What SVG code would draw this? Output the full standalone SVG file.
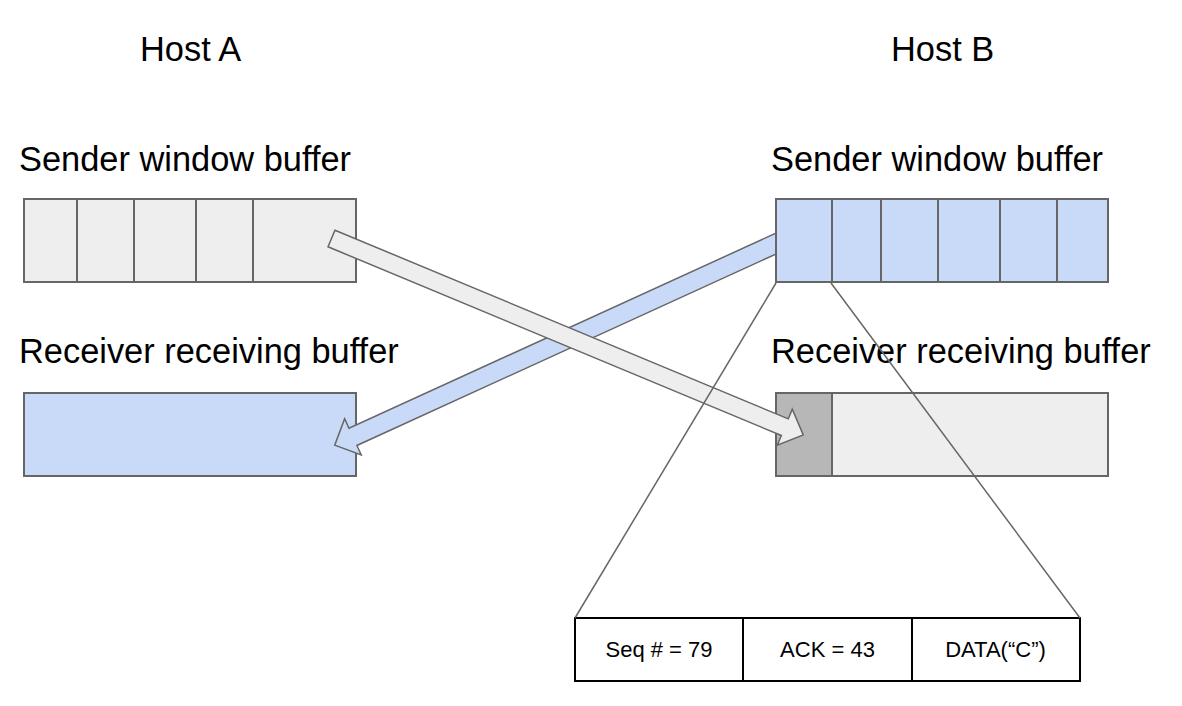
<svg xmlns="http://www.w3.org/2000/svg" width="1182" height="706" viewBox="0 0 1182 706">
<style>
  .lbl { font-family: "Liberation Sans", Arial, sans-serif; font-size: 34.4px; fill: #000; }
  .pkt { font-family: "Liberation Sans", Arial, sans-serif; font-size: 22px; fill: #000; text-anchor: middle; }
  .gray { fill: #eeeeee; stroke: #666666; stroke-width: 2; }
  .blue { fill: #c9daf8; stroke: #666666; stroke-width: 2; }
  .dark { fill: #b7b7b7; stroke: #666666; stroke-width: 2; }
  .div { stroke: #666666; stroke-width: 2; fill: none; }
  .pbox { fill: #ffffff; stroke: #000000; stroke-width: 2; }
  .arrowG { fill: #eeeeee; stroke: #666666; stroke-width: 1.5; stroke-linejoin: miter; }
  .arrowB { fill: #c9daf8; stroke: #666666; stroke-width: 1.5; stroke-linejoin: miter; }
  .leader { stroke: #666666; stroke-width: 1.5; fill: none; }
</style>
<rect width="1182" height="706" fill="#ffffff"/>

<g id="hostA-title"><text class="lbl" x="140" y="61">Host A</text></g>
<g id="hostB-title"><text class="lbl" x="891" y="61">Host B</text></g>

<g id="A-sender">
  <text class="lbl" x="19" y="171">Sender window buffer</text>
  <rect class="gray" x="24" y="199" width="332" height="83"/>
  <path class="div" d="M77,199V282M134,199V282M196,199V282M253,199V282"/>
</g>

<g id="A-receiver">
  <text class="lbl" x="19" y="363">Receiver receiving buffer</text>
  <rect class="blue" x="24" y="393" width="332" height="83"/>
</g>

<g id="connectors-under">
  <path class="arrowB" transform="translate(790,237.2) rotate(155.45)" d="M0,-9.5H480.5V-20L500.5,0L480.5,20V9.5H0Z"/>
</g>

<g id="B-sender">
  <text class="lbl" x="771" y="171">Sender window buffer</text>
  <rect class="blue" x="776" y="199" width="332" height="83"/>
  <path class="div" d="M832,199V282M881,199V282M938,199V282M1000,199V282M1057,199V282"/>
</g>

<g id="B-receiver">
  <text class="lbl" x="771" y="363">Receiver receiving buffer</text>
  <rect class="gray" x="776" y="393" width="332" height="83"/>
  <rect class="dark" x="776" y="393" width="56" height="83"/>
</g>

<g id="packet">
  <rect class="pbox" x="575" y="618" width="505" height="63"/>
  <path class="pbox" d="M743,618V681M912,618V681"/>
  <text class="pkt" x="659" y="657">Seq # = 79</text>
  <text class="pkt" x="827.5" y="657">ACK = 43</text>
  <text class="pkt" x="995.5" y="657">DATA(“C”)</text>
</g>

<g id="connectors">
  <path class="arrowG" transform="translate(331.5,238.5) rotate(22.6)" d="M0,-9H491V-19.5L511,0L491,19.5V9H0Z"/>
  <line class="leader" x1="776" y1="283" x2="575" y2="618"/>
  <line class="leader" x1="831" y1="283" x2="1080" y2="618"/>
</g>
</svg>
